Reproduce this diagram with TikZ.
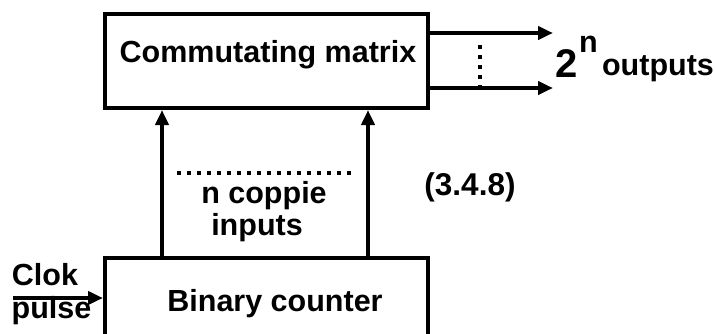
\documentclass[tikz,border=0pt]{standalone}
\usepackage{fontspec}
\setmainfont{Liberation Sans}
\usetikzlibrary{arrows.meta}
\tikzset{
  block/.style={draw, line width=4pt, inner sep=0pt},
  lbl/.style={font=\bfseries\fontsize{30.5}{31}\selectfont, inner sep=0pt, anchor=base},
  arr/.style={line width=4pt, -{Triangle[length=15pt,width=13pt]}},
}
\begin{document}
\begin{tikzpicture}[x=1pt,y=-1pt]
\useasboundingbox (0,0) rectangle (715,333);
\clip (0,0) rectangle (715,333);
% boxes
\node[block, minimum width=323pt, minimum height=94pt] (matrix) at (266.5,61) {};
\node[block, minimum width=323pt, minimum height=110pt] (counter) at (266.5,313) {};
\node[lbl] (mtext) at (268,62) {Commutating matrix};
\node[lbl] (ctext) at (275,311) {Binary counter};
% inputs
\draw[arr] (counter.north -| 162,0) -- (matrix.south -| 162,0);
\draw[arr] (counter.north -| 368,0) -- (matrix.south -| 368,0);
\coordinate (d1) at (177,173);
\coordinate (d2) at (355,173);
\draw[line width=3.5pt, dash pattern=on 3.5pt off 6.5pt] (d1) -- (d2);
\node[lbl] (ncop) at (264,203) {n coppie};
\node[lbl] (inp) at (257,235) {inputs};
\node[lbl, font=\bfseries\fontsize{31.5}{32}\selectfont] (eqn) at (470,195) {(3.4.8)};
% outputs
\coordinate (o1) at (553,33);
\coordinate (o2) at (553,88);
\draw[arr] (matrix.east |- o1) -- (o1);
\draw[arr] (matrix.east |- o2) -- (o2);
\coordinate (v1) at (480,45);
\coordinate (v2) at (480,86);
\draw[line width=3.5pt, dash pattern=on 4pt off 6pt] (v1) -- (v2);
\node[lbl, font=\bfseries\fontsize{40}{40}\selectfont] (two) at (567,77) {2};
\node[lbl] (en) at (588.5,52) {n};
\node[lbl] (outs) at (658,75) {outputs};
% clock
\node[lbl] (clok) at (45,285) {Clok};
\node[lbl] (pulse) at (51.5,318) {pulse};
\coordinate (ck) at (13,298);
\draw[arr] (ck) -- (ck -| counter.west);
\end{tikzpicture}
\end{document}
